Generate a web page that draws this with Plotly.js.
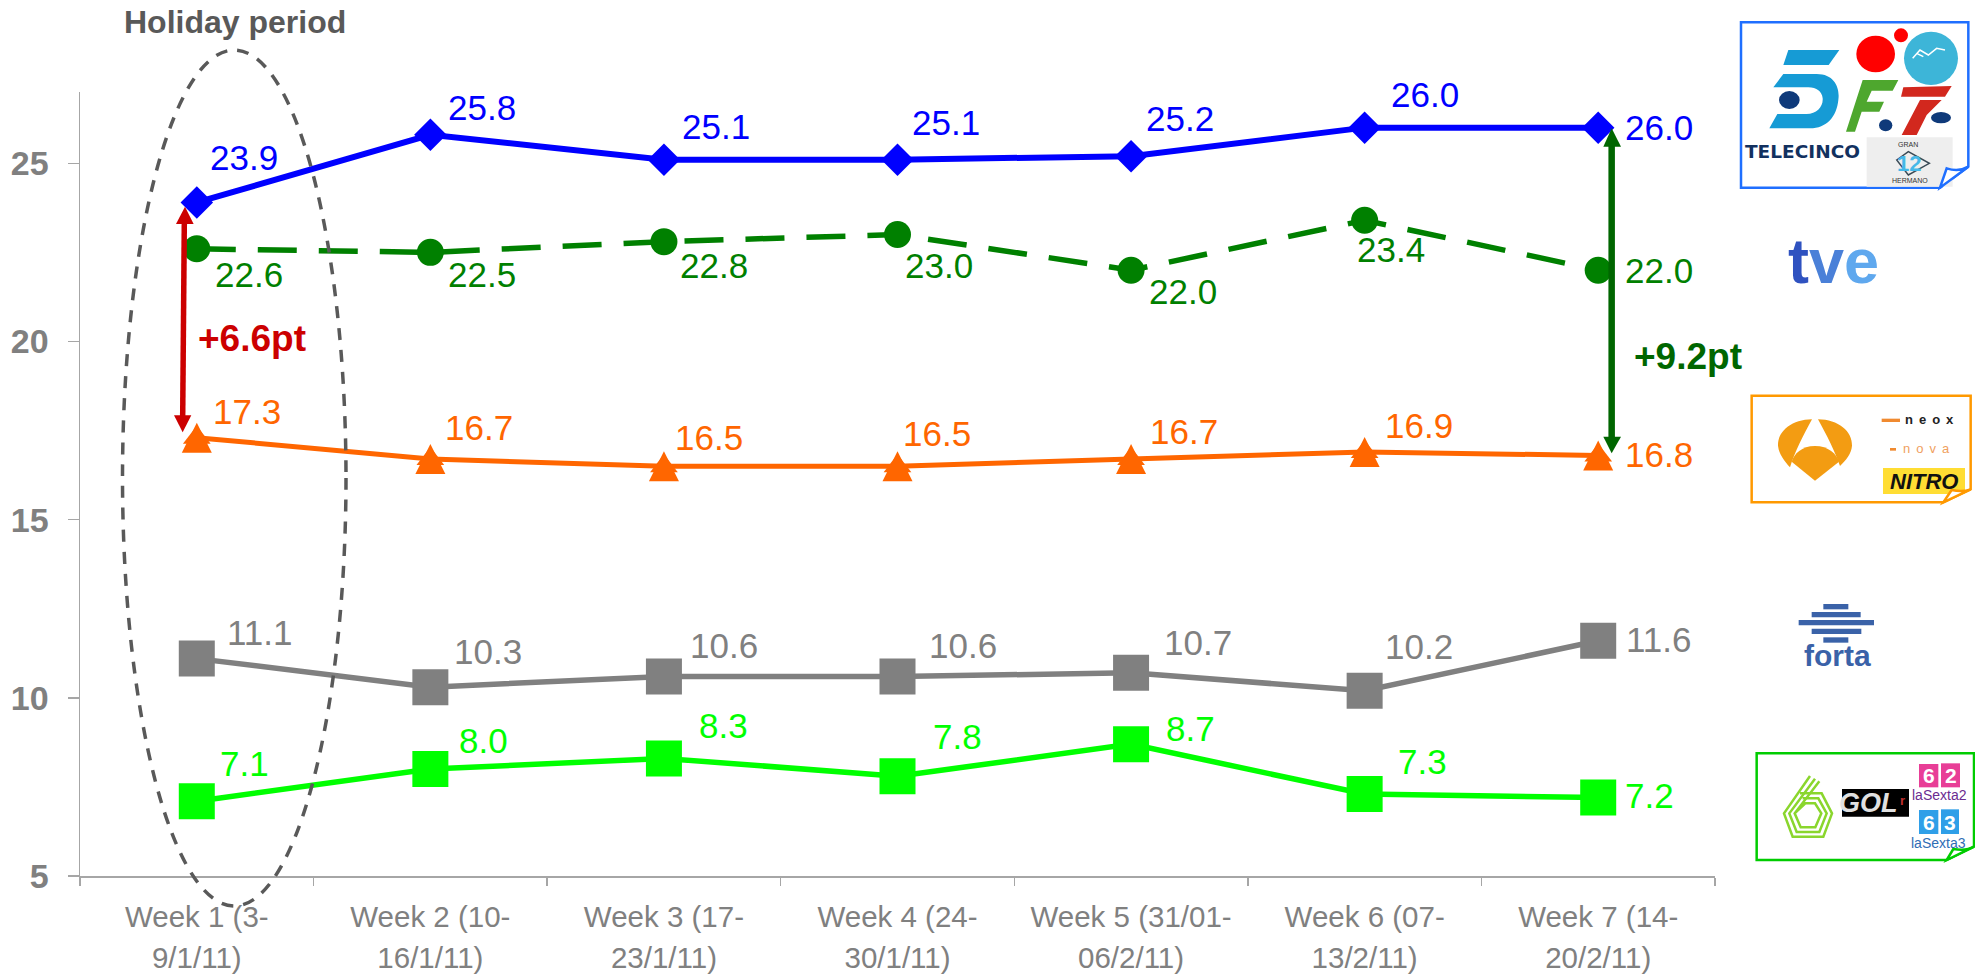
<!DOCTYPE html>
<html><head><meta charset="utf-8">
<script src="https://cdn.plot.ly/plotly-3.0.1.min.js"></script>
<style>html,body{margin:0;padding:0;background:#fff}#chart{width:1975px;height:974px}</style>
</head><body><div id="chart"></div>
<script>
const categories = ['Week 1 (3-<br>9/1/11)','Week 2 (10-<br>16/1/11)','Week 3 (17-<br>23/1/11)','Week 4 (24-<br>30/1/11)','Week 5 (31/01-<br>06/2/11)','Week 6 (07-<br>13/2/11)','Week 7 (14-<br>20/2/11)'];
const telecinco = [23.9,25.8,25.1,25.1,25.2,26.0,26.0];
const tve       = [22.6,22.5,22.8,23.0,22.0,23.4,22.0];
const antena3   = [17.3,16.7,16.5,16.5,16.7,16.9,16.8];
const forta     = [11.1,10.3,10.6,10.6,10.7,10.2,11.6];
const lasexta   = [7.1,8.0,8.3,7.8,8.7,7.3,7.2];
const yTicks = [5,10,15,20,25];

const W=1975,H=974,L=80,R=260,T=92,B=98;
const series = [
 {y:forta,   c:'#808080', sym:'square', size:36, dash:'solid', w:5.5,
  dx:[63,58,60,65,67,54,61], up:[26,36,31,31,30,44,1]},
 {y:lasexta, c:'#00ff00', sym:'square', size:36, dash:'solid', w:5.5,
  dx:[48,53,60,60,59,58,51], up:[38,29,33,40,16,33,2]},
 {y:antena3, c:'#ff6600', sym:'triangle-up', size:24, dash:'solid', w:5,
  dx:[50,49,45,39,53,54,61], up:[26,32,29,33,28,26,1]},
 {y:tve,     c:'#008000', sym:'circle', size:27, dash:'39px,22px', w:5.5,
  dx:[52,52,50,41,52,26,61], up:[-26,-22,-24,-31,-21,-29,0]},
 {y:telecinco,c:'#0000ff', sym:'diamond', size:25, dash:'solid', w:6,
  dx:[47,52,52,48,49,60,61], up:[45,27,33,37,38,33,0]}
];
const traces = series.map(s=>({type:'scatter',mode:'lines+markers',x:categories,y:s.y,
  line:{color:s.c,width:s.w,dash:s.dash},marker:{color:s.c,symbol:s.sym,size:s.size,line:{width:0}},hoverinfo:'skip',cliponaxis:false}));

// pixel helpers
const px=x=>(x-L)/(W-L-R), py=y=>1-(y-T)/(H-T-B);
const xfm=(d,ox,oy)=>d.replace(/(-?[\d.]+),(-?[\d.]+)/g,(m,a,b)=>px(ox+a/3)+','+py(oy+b/3));
const O1=[1720,0],O2=[1720,380],O3=[1540,90];
const shapes=[];
function path(d,o,fill,stroke,w){shapes.push({type:'path',xref:'paper',yref:'paper',path:xfm(d,o[0],o[1]),fillcolor:fill||'rgba(0,0,0,0)',line:{color:stroke||'rgba(0,0,0,0)',width:stroke?(w||2):0}});}
function oval(cx,cy,rx,ry,o,fill){shapes.push({type:'circle',xref:'paper',yref:'paper',x0:px(o[0]+(cx-rx)/3),x1:px(o[0]+(cx+rx)/3),y0:py(o[1]+(cy-ry)/3),y1:py(o[1]+(cy+ry)/3),fillcolor:fill,line:{width:0}});}
function rect(x0,y0,x1,y1,o,fill){path(`M${x0},${y0} L${x1},${y0} L${x1},${y1} L${x0},${y1} Z`,o,fill);}
const anns=[];
function txt(t,x,y,o,size,color,extra){anns.push(Object.assign({xref:'paper',yref:'paper',x:px(o[0]+x/3),y:py(o[1]+y/3),text:t,showarrow:false,xanchor:'center',yanchor:'middle',font:{size:size,color:color,family:'Liberation Sans, Arial, sans-serif'}},extra||{}));}
const O0=[0,0];

// orange triangles, as tall as the reference's, anchored on the data
antena3.forEach((v,i)=>shapes.push({type:'path',xref:'x',yref:'y',xsizemode:'pixel',ysizemode:'pixel',xanchor:i,yanchor:v,path:'M-15,-15 L15,-15 L0,15 Z',fillcolor:'#ff6600',line:{width:0}}));

// holiday ellipse
shapes.push({type:'circle',xref:'paper',yref:'paper',x0:px(122.5),x1:px(346),y0:py(50),y1:py(906),line:{color:'#595959',width:3.5,dash:'12px,10px'},fillcolor:'rgba(0,0,0,0)'});

// red double arrow
path('M553,660 L548,1260',O0,null,'#cc0000',5.5);
path('M555,620 L581,672 L528,672 Z',O0,'#cc0000');
path('M548,1297 L522,1246 L574,1246 Z',O0,'#cc0000');
// green double arrow
path('M215,165 L215,1045',O3,null,'#006600',6.5);
path('M215,115 L243,170 L190,170 Z',O3,'#006600');
path('M215,1090 L243,1040 L190,1040 Z',O3,'#006600');

// --- Telecinco note
path('M63,67 L745,67 L745,500 L660,563 L63,563 Z',O1,'#ffffff','#1f6fff',2.5);
path('M205,150 L358,150 L326,195 L190,195 Z',O1,'#169bd5');
path('M190,222 L290,222 C345,222 360,265 355,300 C350,350 320,385 270,385 L148,385 L172,342 L260,342 C290,342 310,320 308,295 C306,275 290,262 265,262 L160,262 Z',O1,'#169bd5');
oval(208,300,31,27,O1,'#0f3a7a');
oval(467,162,58,55,O1,'#ff0000');
oval(543,106,21,21,O1,'#ff0000');
oval(633,175,81,80,O1,'#3db5d8');
path('M578,175 L600,150 L625,165 L650,145 L675,150 M590,160 L610,170',O1,null,'#ffffff',1.5);
path('M428,240 L535,240 L518,272 L455,272 L440,305 L492,305 L478,335 L425,335 L405,395 L378,395 Z',O1,'#4ea72e');
oval(497,376,20,18,O1,'#0f3a7a');
path('M550,262 L695,258 L675,290 L543,290 Z',O1,'#d2281e');
path('M600,300 L665,300 L620,345 L590,405 L545,405 Z',O1,'#d2281e');
oval(663,353,30,17,O1,'#0f3a7a');
rect(440,412,698,560,O1,'#eeeeee');
path('M530,480 L565,455 L628,490 L565,525 Z',O1,null,'#3a4a55',1.5);
path('M745,500 L660,563 L680,505 C700,512 725,512 745,500 Z',O1,'#ffffff','#1f6fff',2.5);
txt('TELECINCO',247,453,O1,18.5,'#12315f',{font:{size:18.5,color:'#12315f',family:'DejaVu Sans',weight:700}});
txt('GRAN',565,433,O1,7,'#333333');
txt('HERMANO',570,541,O1,7,'#333333');
txt('12',568,490,O1,22,'#45b8e8',{font:{size:22,color:'#45b8e8',family:'Liberation Sans',weight:700}});

// --- tve
txt("<span style='color:#2f52c0'>t</span><span style='color:#4a80d8'>v</span><span style='color:#5fa8ee'>e</span>",340,782,O1,63,'#4a80d8',{font:{size:63,color:'#4a80d8',family:'Liberation Sans',weight:700}});

// --- Antena 3 note
path('M95,47 L752,47 L752,328 L670,367 L95,367 Z',O2,'#ffffff','#ff9900',2.5);
path('M276,118 C215,118 172,155 174,197 C176,222 195,245 210,262 C225,215 250,165 276,118 Z',O2,'#f39c12');
path('M294,118 C355,118 398,155 396,197 C394,222 378,240 360,258 C345,215 320,165 294,118 Z',O2,'#f39c12');
path('M285,198 C245,198 222,222 215,245 L285,302 L357,245 C350,222 325,198 285,198 Z',O2,'#f39c12');
rect(485,116,540,126,O2,'#f08a30');
txt('neox',637,119,O2,13,'#222222',{font:{size:13,color:'#222222',family:'Liberation Sans',weight:700}});
rect(510,204,528,212,O2,'#f08a30');
txt('nova',627,207,O2,13,'#f0a060',{font:{size:13,color:'#f0a060',family:'Liberation Sans'}});
rect(489,264,735,342,O2,'#ffdd33');
txt('NITRO',612,304,O2,22,'#111111',{font:{size:22,color:'#111111',family:'Liberation Sans',weight:700,style:'italic'}});
path('M752,328 L670,367 L695,330 C715,334 735,334 752,328 Z',O2,'#ffffff','#ff9900',2.5);

// --- FORTA
const fb='#3a62a8';
rect(310,672,385,688,O2,fb);rect(275,696,422,712,O2,fb);rect(236,720,462,736,O2,fb);rect(275,746,424,762,O2,fb);rect(310,772,385,788,O2,fb);
txt('forta',353,826,O2,30,fb,{font:{size:30,color:fb,family:'Liberation Sans',weight:700}});

// --- laSexta note
path('M110,1120 L762,1120 L762,1400 L680,1440 L110,1440 Z',O2,'#ffffff','#00cc00',2.5);
const g6='#8ad62d';
path('M270,1188 L192,1300 L218,1370 L310,1370 L336,1300 L305,1240 L240,1240',O2,null,g6,2.5);
path('M285,1196 L208,1300 L230,1356 L298,1356 L320,1300 L295,1255 L248,1255',O2,null,g6,2.5);
path('M298,1204 L224,1300 L242,1342 L286,1342 L304,1300 L285,1270 L256,1270 L224,1300',O2,null,g6,2.5);
rect(366,1227,567,1310,O2,'#000000');
txt('GOL',445,1268,O2,27,'#e0e0e0',{font:{size:27,color:'#e0e0e0',family:'Liberation Sans',weight:700,style:'italic'}});
txt('r',548,1262,O2,13,'#c03030',{font:{size:13,color:'#c03030',family:'Liberation Sans',weight:700}});
rect(597,1152,655,1222,O2,'#e83e97');rect(663,1150,720,1222,O2,'#e83e97');
txt('6',626,1187,O2,21,'#ffffff',{font:{size:21,color:'#ffffff',family:'Liberation Sans',weight:700}});
txt('2',692,1187,O2,21,'#ffffff',{font:{size:21,color:'#ffffff',family:'Liberation Sans',weight:700}});
txt('laSexta2',657,1244,O2,14,'#6b2c91');
rect(597,1290,655,1362,O2,'#2f9fe8');rect(663,1288,717,1362,O2,'#2f9fe8');
txt('6',626,1326,O2,21,'#ffffff',{font:{size:21,color:'#ffffff',family:'Liberation Sans',weight:700}});
txt('3',690,1326,O2,21,'#ffffff',{font:{size:21,color:'#ffffff',family:'Liberation Sans',weight:700}});
txt('laSexta3',656,1388,O2,14,'#2f6db5');
path('M762,1400 L680,1440 L700,1407 C722,1411 745,1410 762,1400 Z',O2,'#ffffff','#00cc00',2.5);

// chart texts
txt('Holiday period',706,66,O0,32,'#595959',{font:{size:32,color:'#595959',family:'Liberation Sans',weight:700}});
txt('+6.6pt',757,1015,O0,37,'#cc0000',{font:{size:37,color:'#cc0000',family:'Liberation Sans',weight:700}});
txt('+9.2pt',5064,1068,O0,37,'#006600',{font:{size:37,color:'#006600',family:'Liberation Sans',weight:700}});

// data labels
series.forEach(s=>s.y.forEach((v,i)=>anns.push({xref:'x',yref:'y',x:i,y:v,text:v.toFixed(1),showarrow:false,xshift:s.dx[i],yshift:s.up[i],xanchor:'center',yanchor:'middle',font:{size:35,color:s.c,family:'Liberation Sans, Arial, sans-serif'}})));

const layout={width:W,height:H,margin:{l:L,r:R,t:T,b:B,autoexpand:false},paper_bgcolor:'#fff',plot_bgcolor:'#fff',showlegend:false,hovermode:false,
 xaxis:{type:'category',range:[-0.5,6.5],tickmode:'array',tickvals:categories,ticktext:categories,showline:true,linecolor:'#a6a6a6',linewidth:1.5,showgrid:false,zeroline:false,ticks:'outside',ticklen:8,tickwidth:1.5,tickcolor:'#a6a6a6',tickson:'boundaries',tickangle:0,ticklabelstandoff:14,tickfont:{size:29.5,color:'#808080',family:'Liberation Sans, Arial, sans-serif'}},
 yaxis:{range:[5,27],tickmode:'array',tickvals:yTicks,ticktext:yTicks.map(String),showline:true,linecolor:'#a6a6a6',linewidth:1.5,showgrid:false,zeroline:false,ticks:'outside',ticklen:11,tickwidth:1.5,tickcolor:'#a6a6a6',ticklabelstandoff:12,tickfont:{size:34,color:'#808080',family:'Liberation Sans, Arial, sans-serif',weight:700}},
 shapes:shapes,annotations:anns};
Plotly.newPlot('chart',traces,layout,{displayModeBar:false,staticPlot:true}).then(()=>{
  document.querySelectorAll('.xtick text tspan.line').forEach(t=>{if(parseFloat(t.getAttribute('dy'))>0)t.setAttribute('dy','1.4em');});
  document.querySelectorAll('.annotation-text').forEach(t=>{const s=t.textContent;if(s==='neox'||s==='nova')t.style.letterSpacing='6px';});
});
</script></body></html>
